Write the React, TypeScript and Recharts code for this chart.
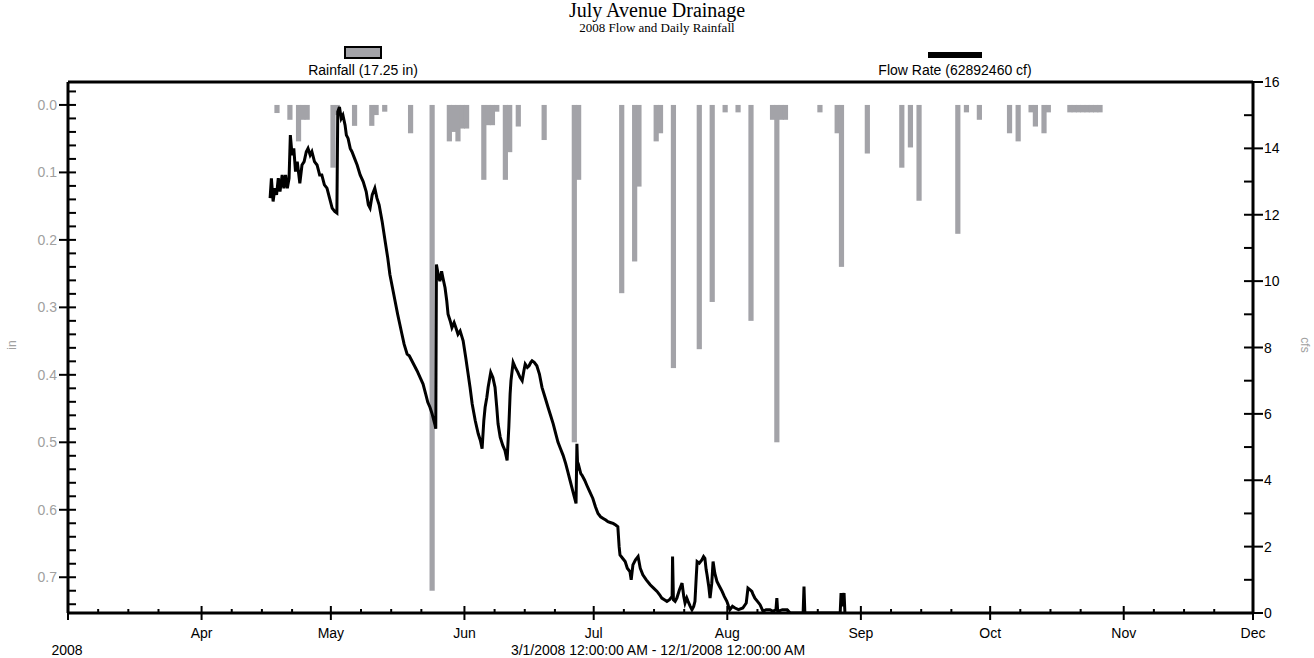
import React from 'react';
import { ComposedChart, Bar, Line, XAxis, YAxis, ReferenceLine } from 'recharts';

// ---- data ----
const START = Date.UTC(2008, 2, 1); // 3/1/2008 00:00
const DAY = 86400000;
const toDay = (s: string) => (Date.parse(s + 'T00:00:00Z') - START) / DAY;

// daily rainfall (inches)
const rainDates = [
  '2008-04-18', '2008-04-21', '2008-04-23', '2008-04-24', '2008-04-25',
  '2008-05-01', '2008-05-02', '2008-05-06', '2008-05-10', '2008-05-11', '2008-05-13',
  '2008-05-19', '2008-05-24', '2008-05-28', '2008-05-29', '2008-05-30', '2008-05-31',
  '2008-06-01', '2008-06-05', '2008-06-06', '2008-06-07', '2008-06-08', '2008-06-10',
  '2008-06-11', '2008-06-13', '2008-06-19', '2008-06-26', '2008-06-27',
  '2008-07-07', '2008-07-10', '2008-07-11', '2008-07-15', '2008-07-16', '2008-07-19',
  '2008-07-25', '2008-07-28', '2008-07-31',
  '2008-08-03', '2008-08-06', '2008-08-11', '2008-08-12', '2008-08-13', '2008-08-14',
  '2008-08-22', '2008-08-26', '2008-08-27',
  '2008-09-02', '2008-09-10', '2008-09-12', '2008-09-14', '2008-09-23', '2008-09-25', '2008-09-28',
  '2008-10-05', '2008-10-07', '2008-10-10', '2008-10-11', '2008-10-13', '2008-10-14',
  '2008-10-19', '2008-10-20', '2008-10-21', '2008-10-22', '2008-10-23', '2008-10-24', '2008-10-25', '2008-10-26',
];
const rainInches = [
  0.012, 0.022, 0.054, 0.022, 0.022,
  0.093, 0.015, 0.031, 0.031, 0.015, 0.01,
  0.042, 0.72, 0.054, 0.04, 0.054, 0.035,
  0.035, 0.111, 0.03, 0.03, 0.01, 0.111,
  0.07, 0.032, 0.052, 0.5, 0.111,
  0.279, 0.232, 0.121, 0.054, 0.042, 0.39,
  0.362, 0.292, 0.011,
  0.011, 0.32, 0.022, 0.5, 0.022, 0.022,
  0.011, 0.042, 0.24,
  0.072, 0.093, 0.063, 0.142, 0.191, 0.011, 0.022,
  0.042, 0.054, 0.011, 0.032, 0.042, 0.011,
  0.011, 0.011, 0.011, 0.011, 0.011, 0.011, 0.011, 0.011,
];

// flow rate (cfs), time in days after 3/1/2008 00:00
const flowDays = [
  46.9, 47.2, 47.6, 48.0, 48.4, 48.8, 49.2, 49.7, 50.1, 50.5, 50.9, 51.3, 51.6, 52.0, 52.4, 52.8,
  53.2, 53.8, 54.3, 54.8, 55.3, 55.7, 56.2, 56.6, 57.2, 57.8, 58.4, 58.9, 59.5, 60.1, 60.7, 61.3,
  61.9, 62.4, 62.6, 63.0, 63.4, 63.8, 64.3, 64.6, 65.0, 65.5, 65.9, 66.5, 67.1, 67.8, 68.5, 69.2,
  69.7, 70.1, 70.6, 71.2, 71.7, 72.2, 72.9, 73.6, 74.2, 74.7, 75.3, 75.9, 76.5, 77.0, 77.5, 78.0,
  78.7, 79.2, 79.8, 80.4, 81.0, 81.7, 82.4, 83.0, 83.5, 84.0, 84.5, 85.2, 85.35, 85.5, 85.9, 86.3,
  86.7, 87.0, 87.5, 87.9, 88.2, 88.7, 89.1, 89.6, 90.0, 90.5, 91.0, 91.7, 92.3, 92.8, 93.3, 93.8,
  94.5, 95.2, 95.7, 96.1, 96.5, 96.8, 97.2, 97.5, 98.1, 98.6, 99.1, 99.5, 99.8, 100.3, 100.9, 101.4,
  101.9, 102.3, 102.6, 102.8, 103.3, 103.8, 104.4, 104.9, 105.4, 105.8, 106.1, 106.6, 107.0, 107.4, 107.7, 108.2,
  108.8, 109.4, 110.0, 110.7, 111.4, 112.0, 112.6, 113.2, 113.7, 114.3, 114.9, 115.5, 116.0, 116.5, 117.0, 117.5,
  117.9, 118.1, 118.3, 118.6, 119.0, 119.3, 119.9, 120.4, 121.1, 121.8, 122.4, 123.0, 123.6, 124.2, 124.8, 125.3,
  126.0, 126.5, 127.1, 127.6, 127.9, 128.1, 128.7, 129.3, 129.8, 130.4, 130.7, 131.1, 131.7, 132.3, 132.8, 133.4,
  134.2, 135.1, 135.9, 136.7, 137.3, 137.8, 138.4, 139.0, 139.6, 140.2, 140.3, 140.5, 140.9, 141.3, 141.9, 142.5,
  142.9, 143.2, 143.6, 143.9, 144.4, 144.8, 145.2, 145.5, 145.8, 146.0, 146.5, 147.1, 147.5, 147.8, 148.1, 148.3,
  148.7, 149.0, 149.4, 149.7, 150.1, 150.6, 151.2, 151.8, 152.3, 152.9, 153.3, 153.6, 154.2, 154.8, 155.6, 156.6,
  157.4, 157.8, 158.3, 158.7, 159.0, 159.4, 160.0, 160.6, 161.3, 162.0, 162.9, 163.6, 164.3, 164.5, 164.7, 165.8,
  166.9, 167.6, 170.6, 170.8, 171.0, 179.2, 179.4, 179.7, 179.9, 180.1, 180.3,
];
const flowCfs = [
  12.5, 13.1, 12.4, 12.8, 12.6, 13.1, 12.7, 13.2, 12.8, 13.2, 12.8, 13.1, 14.4, 13.8, 14.0, 13.3,
  13.6, 12.95, 13.5, 13.6, 13.9, 14.0, 13.8, 13.9, 13.6, 13.5, 13.2, 13.2, 12.9, 12.8, 12.5, 12.2,
  12.1, 12.05, 15.1, 15.25, 14.9, 15.0, 14.7, 14.4, 14.3, 14.0, 13.9, 13.7, 13.5, 13.2, 13.0, 12.7,
  12.3, 12.2, 12.6, 12.8, 12.5, 12.3, 11.8, 11.2, 10.7, 10.2, 9.8, 9.4, 9.0, 8.7, 8.4, 8.1,
  7.8, 7.75, 7.6, 7.45, 7.3, 7.1, 6.9, 6.6, 6.35, 6.2, 6.0, 5.65, 5.55, 10.5, 10.2, 10.0,
  10.3, 10.1, 9.8, 9.4, 9.0, 8.8, 8.6, 8.75, 8.6, 8.4, 8.5, 8.2, 7.7, 7.25, 6.8, 6.3,
  5.8, 5.4, 5.2, 4.95, 5.8, 6.2, 6.5, 6.8, 7.25, 7.1, 6.8, 6.2, 5.7, 5.3, 5.05, 4.9,
  4.6, 5.6, 6.6, 7.0, 7.55, 7.4, 7.25, 7.1, 7.0, 7.3, 7.5, 7.4, 7.45, 7.55, 7.6, 7.55,
  7.45, 7.2, 6.8, 6.5, 6.2, 5.95, 5.7, 5.4, 5.15, 4.95, 4.75, 4.5, 4.25, 4.0, 3.75, 3.5,
  3.3, 5.1, 4.3, 4.4, 4.2, 4.15, 4.0, 3.85, 3.65, 3.45, 3.2, 3.0, 2.9, 2.85, 2.8, 2.75,
  2.72, 2.7, 2.65, 2.6, 2.0, 1.75, 1.65, 1.55, 1.35, 1.25, 1.0, 1.45, 1.6, 1.7, 1.35, 1.15,
  1.0, 0.85, 0.75, 0.65, 0.55, 0.45, 0.4, 0.35, 0.4, 0.5, 1.7, 0.4, 0.35, 0.45, 0.7, 0.9,
  0.5, 0.3, 0.45, 0.35, 0.2, 0.1, 0.2, 0.35, 1.1, 1.55, 1.5, 1.6, 1.7, 1.65, 1.3, 1.15,
  0.8, 0.45, 0.9, 1.55, 1.2, 0.95, 0.8, 0.65, 0.5, 0.35, 0.2, 0.1, 0.2, 0.15, 0.1, 0.15,
  0.3, 0.75, 0.7, 0.65, 0.55, 0.45, 0.35, 0.25, 0.05, 0.1, 0.1, 0.05, 0.1, 0.45, 0.05, 0.1,
  0.1, 0, 0, 0.8, 0, 0, 0.6, 0.2, 0.45, 0.6, 0,
];

// axes
const monthTicks = [0, 31, 61, 92, 122, 153, 184, 214, 245, 275];
const monthLabels = ['', 'Apr', 'May', 'Jun', 'Jul', 'Aug', 'Sep', 'Oct', 'Nov', 'Dec'];
const weekOffsets = [7, 14, 21];
const rainMajorTicks = [0, 0.1, 0.2, 0.3, 0.4, 0.5, 0.6, 0.7];
const cfsMajorTicks = [0, 2, 4, 6, 8, 10, 12, 14, 16];

const rainDomain: [number, number] = [-0.034, 0.753];
const xTicks = [
  ...monthTicks,
  ...monthTicks.slice(0, -1).flatMap((m) => weekOffsets.map((w) => m + w)),
].sort((a, b) => a - b);
const rainTicks = Array.from({ length: 39 }, (_, i) => Math.round((i - 1) * 2) / 100);
const cfsTicks = Array.from({ length: 17 }, (_, i) => i);

const rainData = rainDates.map((d, i) => ({ x: toDay(d) + 0.5, rain: rainInches[i] }));
const flowData = flowDays.map((d, i) => ({ x: d, flow: flowCfs[i] }));

const SANS = "'Liberation Sans', Arial, sans-serif";
const SERIF = "'Liberation Serif', 'Times New Roman', serif";
const BAR_GRAY = '#a3a3a8';
const LABEL_GRAY = '#a0a0a0';
const TICK_W = 2;

const XTick = (props: any) => {
  const { x, y, payload } = props;
  const idx = monthTicks.indexOf(payload.value);
  if (idx < 0) {
    return <line x1={x} x2={x} y1={y} y2={y - 4} stroke="#000" strokeWidth={TICK_W} />;
  }
  return (
    <g>
      <line x1={x} x2={x} y1={y - 7} y2={y + 7} stroke="#000" strokeWidth={TICK_W} />
      <text x={x} y={y + 25} textAnchor="middle" fontFamily={SANS} fontSize={14} fill="#000">
        {monthLabels[idx]}
      </text>
    </g>
  );
};

const isMajor = (v: number, majors: number[]) => majors.some((m) => Math.abs(m - v) < 1e-6);

const LeftTick = (props: any) => {
  const { x, y, payload } = props;
  const v = payload.value as number;
  if (!isMajor(v, rainMajorTicks)) {
    return <line x1={x} x2={x + 8} y1={y} y2={y} stroke="#000" strokeWidth={TICK_W} />;
  }
  return (
    <g>
      <line x1={x - 9} x2={x + 8} y1={y} y2={y} stroke="#000" strokeWidth={TICK_W} />
      <text x={x - 11} y={y} dy="0.36em" textAnchor="end" fontFamily={SANS} fontSize={14} fill={LABEL_GRAY}>
        {v.toFixed(1)}
      </text>
    </g>
  );
};

const RightTick = (props: any) => {
  const { x, y, payload } = props;
  const v = payload.value as number;
  if (!isMajor(v, cfsMajorTicks)) {
    return <line x1={x - 9} x2={x} y1={y} y2={y} stroke="#000" strokeWidth={TICK_W} />;
  }
  return (
    <g>
      <line x1={x - 9} x2={x + 10} y1={y} y2={y} stroke="#000" strokeWidth={TICK_W} />
      <text x={x + 11} y={y} dy="0.36em" textAnchor="start" fontFamily={SANS} fontSize={14} fill="#000">
        {String(v)}
      </text>
    </g>
  );
};

// rain bars: centred on the bar position that Recharts computes, one day wide
const RainBar = (props: any) => {
  const { x, y, width, height } = props;
  if (x == null || y == null) return null;
  const cx = x + (width || 0) / 2;
  const top = Math.min(y, y + height);
  return <rect x={cx - 2.6} y={top} width={5.2} height={Math.abs(height)} fill={BAR_GRAY} />;
};

export default function App() {
  return (
    <div style={{ position: 'absolute', left: 0, top: 0, width: 1314, height: 658, background: '#fff' }}>
      <ComposedChart
        width={1314}
        height={658}
        data={rainData}
        margin={{ top: 82, right: 0, bottom: 0, left: 0 }}
      >
        <XAxis
          type="number"
          dataKey="x"
          domain={[0, 275]}
          allowDataOverflow
          ticks={xTicks}
          interval={0}
          height={45}
          tickSize={0}
          tickMargin={0}
          axisLine={{ stroke: '#000', strokeWidth: 3 }}
          tickLine={false}
          tick={XTick}
        />
        <YAxis
          yAxisId="rain"
          orientation="left"
          type="number"
          width={68}
          domain={rainDomain}
          allowDataOverflow
          reversed
          ticks={rainTicks}
          interval={0}
          tickSize={0}
          tickMargin={0}
          axisLine={{ stroke: '#000', strokeWidth: 3 }}
          tickLine={false}
          tick={LeftTick}
        />
        <YAxis
          yAxisId="cfs"
          orientation="right"
          type="number"
          width={61}
          domain={[0, 16]}
          allowDataOverflow
          ticks={cfsTicks}
          interval={0}
          tickSize={0}
          tickMargin={0}
          axisLine={{ stroke: '#000', strokeWidth: 3 }}
          tickLine={false}
          tick={RightTick}
        />
        <Bar
          yAxisId="rain"
          dataKey="rain"
          fill={BAR_GRAY}
          shape={RainBar}
          isAnimationActive={false}
        />
        <Line
          yAxisId="cfs"
          data={flowData}
          dataKey="flow"
          type="linear"
          stroke="#000"
          strokeWidth={3}
          dot={false}
          activeDot={false}
          isAnimationActive={false}
        />
        <ReferenceLine yAxisId="cfs" y={16} stroke="#000" strokeWidth={3} ifOverflow="visible" />
      </ComposedChart>
      <svg
        width={1314}
        height={658}
        style={{ position: 'absolute', left: 0, top: 0, pointerEvents: 'none' }}
      >
        <text x={657} y={17} textAnchor="middle" fontFamily={SERIF} fontSize={20} fill="#000">
          July Avenue Drainage
        </text>
        <text x={657} y={32} textAnchor="middle" fontFamily={SERIF} fontSize={13} fill="#000">
          2008 Flow and Daily Rainfall
        </text>
        <rect x={345} y={47} width={36} height={11} fill={BAR_GRAY} stroke="#000" strokeWidth={2} />
        <text x={363} y={75} textAnchor="middle" fontFamily={SANS} fontSize={14} fill="#000">
          Rainfall (17.25 in)
        </text>
        <rect x={928} y={52} width={54} height={6} fill="#000" />
        <text x={955} y={75} textAnchor="middle" fontFamily={SANS} fontSize={14} fill="#000">
          Flow Rate (62892460 cf)
        </text>
        <text x={67} y={655} textAnchor="middle" fontFamily={SANS} fontSize={14} fill="#000">
          2008
        </text>
        <text x={658} y={655} textAnchor="middle" fontFamily={SANS} fontSize={14} fill="#000">
          3/1/2008 12:00:00 AM - 12/1/2008 12:00:00 AM
        </text>
        <text x={16} y={345} textAnchor="middle" fontFamily={SANS} fontSize={12} fill={LABEL_GRAY} transform="rotate(-90 16 345)">
          in
        </text>
        <text x={1301} y={345} textAnchor="middle" fontFamily={SANS} fontSize={12} fill={LABEL_GRAY} transform="rotate(90 1301 345)">
          cfs
        </text>
      </svg>
    </div>
  );
}
